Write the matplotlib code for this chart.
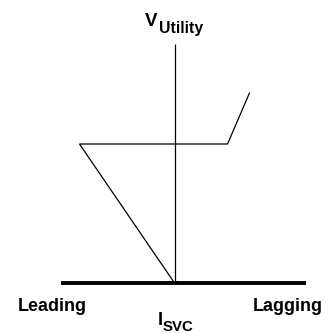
import matplotlib
matplotlib.use("Agg")
import matplotlib.pyplot as plt

# V-I characteristic of the SVC (current: leading negative, lagging positive)
curve_i = [0, -95, 53, 75]
curve_v = [0, 139, 139, 190]

# axes extents
axis_i = [-114, 131]
axis_v = [0, 239]

plt.rcParams['font.family'] = ['Liberation Sans', 'DejaVu Sans']

fig = plt.figure(figsize=(3.30, 3.33), dpi=100)
ax = fig.add_axes([0, 0, 1, 1])
ax.set_xlim(-174.5, 155.5)
ax.set_ylim(-50, 283)
ax.axis('off')

# vertical axis
ax.plot([0, 0], axis_v, color='black', lw=0.9, solid_capstyle='butt')
# horizontal axis (thick)
ax.plot(axis_i, [0, 0], color='black', lw=2.8, solid_capstyle='butt')
# characteristic
ax.plot(curve_i, curve_v, color='black', lw=0.9, solid_joinstyle='miter')

# labels
ax.text(-29.5, 257, "V", fontsize=13.5, fontweight='bold', ha='left', va='baseline')
ax.text(-16, 250, "Utility", fontsize=11.3, fontweight='bold', ha='left', va='baseline')
ax.text(-157, -28, "Leading", fontsize=13, fontweight='bold', ha='left', va='baseline')
ax.text(148.5, -28, "Lagging", fontsize=13, fontweight='bold', ha='right', va='baseline')
ax.text(-16.5, -42, "I", fontsize=13, fontweight='bold', ha='left', va='baseline')
ax.text(-12, -48, "SVC", fontsize=10.8, fontweight='bold', ha='left', va='baseline')

fig.savefig("out.png", dpi=100)
